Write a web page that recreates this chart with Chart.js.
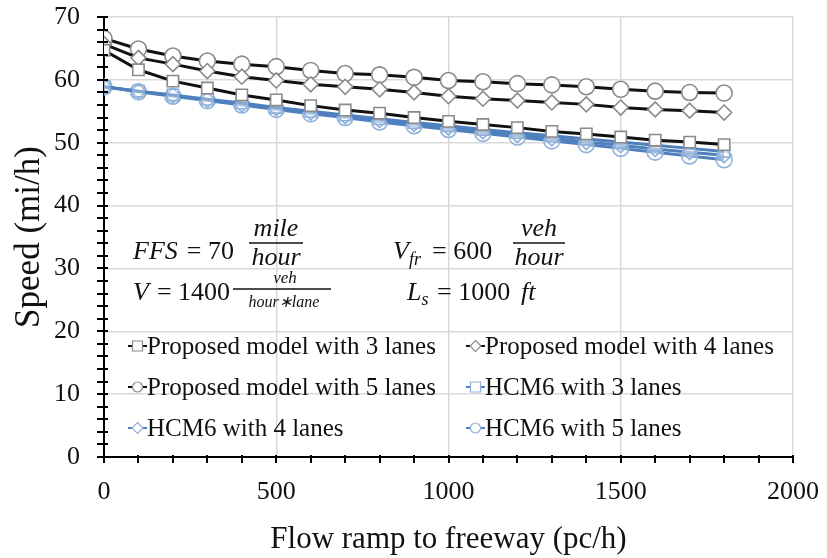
<!DOCTYPE html>
<html>
<head>
<meta charset="utf-8">
<script src="https://cdn.jsdelivr.net/npm/chart.js@4/dist/chart.umd.min.js"></script>
<style>
  html, body { margin: 0; padding: 0; background: #fff; }
  #wrap { width: 827px; height: 558px; }
</style>
</head>
<body>
<div id="wrap"><canvas id="cv"></canvas></div>
<script>
// values
const flow = [0, 100, 200, 300, 400, 500, 600, 700, 800, 900, 1000, 1100, 1200, 1300, 1400, 1500, 1600, 1700, 1800];
const proposed3 = [64.7, 61.6, 59.8, 58.7, 57.6, 56.8, 55.9, 55.2, 54.7, 54.0, 53.4, 52.9, 52.4, 51.8, 51.4, 50.9, 50.4, 50.1, 49.7];
const proposed4 = [65.7, 63.5, 62.5, 61.4, 60.5, 59.9, 59.3, 58.9, 58.5, 58.0, 57.4, 57.0, 56.7, 56.4, 56.1, 55.6, 55.3, 55.1, 54.8];
const proposed5 = [66.6, 64.9, 63.8, 63.0, 62.5, 62.1, 61.5, 61.0, 60.8, 60.4, 59.9, 59.7, 59.4, 59.2, 58.9, 58.5, 58.2, 58.0, 57.9];
const hcm3 = [58.9, 58.2, 57.6, 56.9, 56.3, 55.6, 55.0, 54.4, 53.8, 53.2, 52.7, 52.1, 51.6, 51.1, 50.6, 50.1, 49.6, 49.1, 48.6];
const hcm4 = [58.9, 58.2, 57.5, 56.8, 56.1, 55.5, 54.8, 54.2, 53.6, 53.0, 52.4, 51.8, 51.2, 50.7, 50.1, 49.6, 49.0, 48.5, 48.0];
const hcm5 = [58.9, 58.1, 57.4, 56.7, 56.0, 55.3, 54.6, 54.0, 53.3, 52.7, 52.1, 51.5, 50.9, 50.3, 49.7, 49.1, 48.5, 47.9, 47.3];

const xTicks = [0, 500, 1000, 1500, 2000];
const yTicks = [0, 10, 20, 30, 40, 50, 60, 70];

const SERIF = '"Liberation Serif", "Times New Roman", serif';
const BLACK = '#111';
const BLUE = '#4f80bd';
const GREY_MK = '#8a8a8a';
const BLUE_MK = '#8fb1da';

const pts = ys => flow.map((x, i) => ({ x, y: ys[i] }));

function proposed(label, ys, style) {
  return {
    label, data: pts(ys),
    borderColor: BLACK, borderWidth: 3,
    pointStyle: style, pointRadius: style === 'rectRot' ? 7.5 : 8,
    pointBackgroundColor: '#fff', pointBorderColor: GREY_MK, pointBorderWidth: 1.6,
    tension: 0
  };
}
function hcm(label, ys, style) {
  return {
    label, data: pts(ys),
    borderColor: BLUE, borderWidth: 3,
    pointStyle: style, pointRadius: style === 'rectRot' ? 7.5 : 8,
    pointBackgroundColor: 'rgba(255,255,255,0.3)', pointBorderColor: BLUE_MK, pointBorderWidth: 1.6,
    tension: 0
  };
}

const datasets = [
  proposed('Proposed model with 3 lanes', proposed3, 'rect'),
  proposed('Proposed model with 4 lanes', proposed4, 'rectRot'),
  proposed('Proposed model with 5 lanes', proposed5, 'circle'),
  hcm('HCM6 with 3 lanes', hcm3, 'rect'),
  hcm('HCM6 with 4 lanes', hcm4, 'rectRot'),
  hcm('HCM6 with 5 lanes', hcm5, 'circle'),
];

// minor / major tick marks crossing the axes
const tickMarks = {
  id: 'tickMarks',
  afterDraw(chart) {
    const { ctx, scales: { x, y } } = chart;
    ctx.save();
    ctx.strokeStyle = '#000';
    ctx.lineWidth = 2;
    ctx.beginPath();
    for (let v = 0; v <= 2000; v += 100) {
      const px = Math.round(x.getPixelForValue(v));
      ctx.moveTo(px, y.bottom - 2); ctx.lineTo(px, y.bottom + 6);
    }
    for (let v = 0; v <= 70; v += 2) {
      const py = Math.round(y.getPixelForValue(v));
      ctx.moveTo(x.left - 7, py); ctx.lineTo(x.left + 4, py);
    }
    ctx.stroke();
    ctx.restore();
  }
};

// legend inside the plot, two columns
const innerLegend = {
  id: 'innerLegend',
  afterDraw(chart) {
    const { ctx } = chart;
    const cols = [128, 466];
    const rows = [346, 387, 428];
    ctx.save();
    ctx.font = '25px ' + SERIF;
    ctx.textBaseline = 'middle';
    chart.data.datasets.forEach((ds, i) => {
      const lx = cols[i % 2], ly = rows[Math.floor(i / 2)];
      const mx = lx + 9.5;
      ctx.strokeStyle = ds.borderColor;
      ctx.lineWidth = 2;
      ctx.beginPath(); ctx.moveTo(lx, ly); ctx.lineTo(lx + 19, ly); ctx.stroke();
      ctx.fillStyle = '#fff';
      ctx.strokeStyle = ds.pointBorderColor;
      ctx.lineWidth = 1.2;
      ctx.beginPath();
      if (ds.pointStyle === 'circle') ctx.arc(mx, ly, 5, 0, Math.PI * 2);
      else if (ds.pointStyle === 'rect') ctx.rect(mx - 5, ly - 5, 10, 10);
      else { ctx.moveTo(mx, ly - 5.5); ctx.lineTo(mx + 5.5, ly); ctx.lineTo(mx, ly + 5.5); ctx.lineTo(mx - 5.5, ly); ctx.closePath(); }
      ctx.fill(); ctx.stroke();
      ctx.fillStyle = '#111';
      ctx.fillText(ds.label, lx + 19, ly + 1);
    });
    ctx.restore();
  }
};

// the parameter block written in math style
const formulas = {
  id: 'formulas',
  afterDraw(chart) {
    const { ctx } = chart;
    const it = s => 'italic ' + s + 'px ' + SERIF;
    const up = s => s + 'px ' + SERIF;
    const t = (s, x, y, font, align) => {
      ctx.font = font; ctx.textAlign = align || 'left'; ctx.fillText(s, x, y);
      return x + ctx.measureText(s).width;
    };
    const bar = (x1, x2, y) => {
      ctx.beginPath(); ctx.moveTo(x1, y); ctx.lineTo(x2, y); ctx.stroke();
    };
    ctx.save();
    ctx.fillStyle = '#111';
    ctx.strokeStyle = '#111';
    ctx.lineWidth = 1.3;
    ctx.textBaseline = 'alphabetic';

    // FFS = 70 mile/hour
    let cx = t('FFS', 133, 259, it(26));
    t('= 70', cx + 9, 259, up(26));
    t('mile', 276, 236, it(26), 'center');
    bar(249, 303, 243);
    t('hour', 276, 265, it(26), 'center');

    // V_fr = 600 veh/hour
    cx = t('V', 393, 259, it(26));
    t('fr', cx, 265, it(18));
    t('= 600', 432, 259, up(26));
    t('veh', 539, 236, it(26), 'center');
    bar(513, 565, 243);
    t('hour', 539, 265, it(26), 'center');

    // V = 1400 veh/(hour*lane)
    cx = t('V', 133, 300, it(26));
    t('= 1400', cx + 8, 300, up(26));
    t('veh', 285, 283, it(17), 'center');
    bar(233, 331, 289);
    t('hour\u2217lane', 284, 307, it(16), 'center');

    // L_s = 1000 ft
    cx = t('L', 407, 300, it(26));
    t('s', cx, 305, it(18));
    t('= 1000', 437, 300, up(26));
    t('ft', 521, 300, it(26));
    ctx.restore();
  }
};

new Chart(document.getElementById('cv'), {
  type: 'line',
  data: { datasets },
  plugins: [tickMarks, innerLegend, formulas],
  options: {
    responsive: true,
    maintainAspectRatio: false,
    animation: false,
    layout: { padding: { top: 17, right: 34, left: 0, bottom: 0 } },
    plugins: { legend: { display: false }, tooltip: { enabled: false } },
    scales: {
      x: {
        type: 'linear', min: 0, max: 2000,
        afterBuildTicks: s => { s.ticks = xTicks.map(v => ({ value: v })); },
        afterFit: s => { s.height = 101; s.paddingLeft = 0; s.paddingRight = 0; },
        grid: { color: '#d9d9d9', lineWidth: 1.5, drawTicks: false },
        border: { color: '#000', width: 2 },
        ticks: { color: '#111', padding: 20, font: { family: SERIF, size: 26 }, callback: v => String(v) },
        title: {
          display: true, text: 'Flow ramp to freeway (pc/h)', color: '#111',
          font: { family: SERIF, size: 31 }, padding: { top: 0, bottom: 0 }
        }
      },
      y: {
        min: 0, max: 70,
        afterBuildTicks: s => { s.ticks = yTicks.map(v => ({ value: v })); },
        afterFit: s => { s.width = 104; s.paddingTop = 0; s.paddingBottom = 0; },
        grid: { color: '#d9d9d9', lineWidth: 1.5, drawTicks: false },
        border: { color: '#000', width: 2 },
        ticks: { color: '#111', padding: 24, font: { family: SERIF, size: 26 }, callback: v => String(v) },
        title: {
          display: true, text: 'Speed (mi/h)', color: '#111',
          font: { family: SERIF, size: 35 }, padding: { top: 9, bottom: 0 }
        }
      }
    }
  }
});
</script>
</body>
</html>
